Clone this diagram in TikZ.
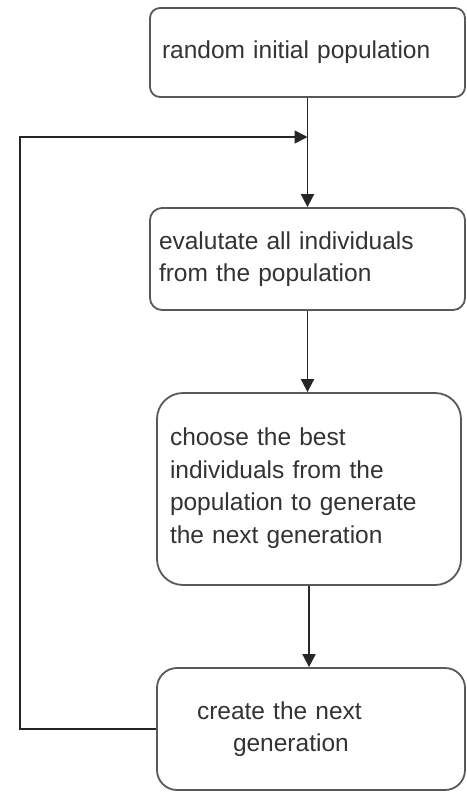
\documentclass[tikz,border=0pt]{standalone}
\usepackage{fontspec}
\setmainfont{Liberation Sans}
\usetikzlibrary{arrows.meta}

\begin{document}
\begin{tikzpicture}[x=1pt, y=1pt,
    stage/.style={draw=black!65, line width=1.8pt, fill=white, text=black!80,
        font=\fontsize{24.5}{32.5}\selectfont, inner ysep=0pt},
    flow/.style={line width=1.8pt, black!85, -{Triangle[length=13pt, width=13pt]}}]
    \useasboundingbox (0,0) rectangle (466,-792);

    % Stages of the loop
    \node[stage, rounded corners=10pt, minimum width=315, minimum height=89,
        text width=291, inner xsep=12pt, align=left] (init) at (307.5,-52.5)
        {random initial population};
    \node[stage, rounded corners=12pt, minimum width=315, minimum height=102,
        text width=297, inner xsep=9pt, align=left] (eval) at (307.5,-259)
        {evalutate all individuals\\from the population};
    \node[stage, rounded corners=26pt, minimum width=304, minimum height=192,
        text width=278, inner xsep=13pt, align=left] (choose) at (309,-489)
        {choose the best\\individuals from the\\population to generate\\the next generation\\[-26pt]\mbox{}};
    \node[stage, rounded corners=20pt, minimum width=308, minimum height=122,
        text width=228, inner xsep=40pt, align=left] (create) at (311,-729)
        {create the next\\\hspace*{36pt}generation};

    % Feedback path
    \coordinate (join) at (307.5,-137);
    \coordinate (lowleft) at (20,-729);
    \coordinate (upleft) at (20,-137);

    \draw[flow] (init) -- (eval);
    \draw[flow] (eval.south) -- (eval.south |- choose.north);
    \draw[flow] (choose.south) -- (choose.south |- create.north);
    \draw[flow] (create.west) -- (lowleft) -- (upleft) -- (join);
\end{tikzpicture}
\end{document}
